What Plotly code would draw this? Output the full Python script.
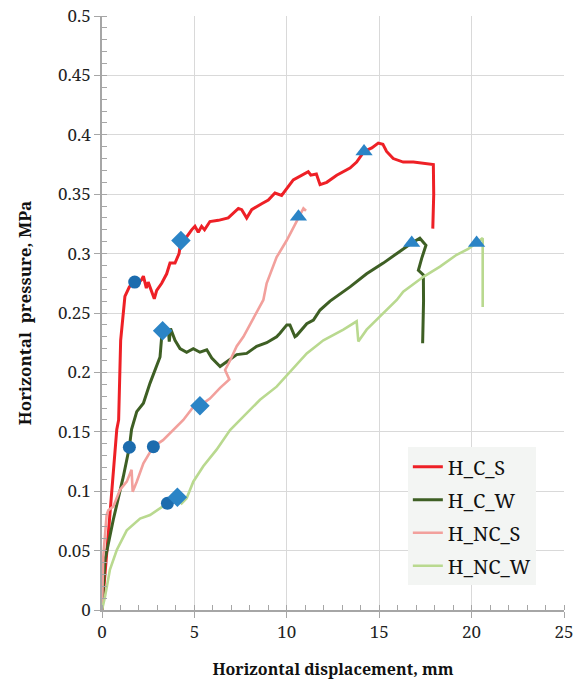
import plotly.graph_objects as go

# ---------------- data ----------------
hcs_x = [0.0, 0.07, 0.4, 0.8, 0.9, 1.01, 1.24, 1.48, 1.73, 2.0, 2.14, 2.24, 2.4, 2.5, 2.6, 2.83, 2.96, 3.23,
         3.5, 3.68, 3.95, 4.17, 4.27, 4.58, 4.85, 5.03, 5.21, 5.39, 5.55, 5.84, 6.3, 6.83, 7.38, 7.56, 7.83,
         8.1, 8.64, 9.0, 9.36, 9.72, 10.35, 10.7, 11.16, 11.3, 11.6, 11.8, 12.16, 12.7, 13.42, 13.78, 14.18,
         14.6, 14.95, 15.2, 15.4, 15.76, 16.3, 16.85, 17.39, 17.93, 17.95, 17.9]
hcs_y = [0.0, 0.014, 0.075, 0.152, 0.16, 0.227, 0.264, 0.272, 0.276, 0.276, 0.278, 0.281, 0.271, 0.276, 0.272,
         0.262, 0.269, 0.275, 0.283, 0.292, 0.292, 0.300, 0.311, 0.314, 0.320, 0.323, 0.318, 0.323, 0.320,
         0.327, 0.328, 0.330, 0.338, 0.337, 0.330, 0.337, 0.342, 0.345, 0.351, 0.349, 0.362, 0.365, 0.369,
         0.366, 0.367, 0.358, 0.360, 0.366, 0.372, 0.377, 0.386, 0.389, 0.393, 0.392, 0.386, 0.380, 0.377,
         0.377, 0.376, 0.375, 0.35, 0.321]

hcw_x = [0.0, 0.16, 0.61, 1.15, 1.48, 1.6, 1.88, 2.24, 2.6, 2.87, 3.14, 3.23, 3.28, 3.45, 3.59, 3.64, 3.71,
         3.95, 4.22, 4.58, 4.94, 5.3, 5.67, 5.94, 6.39, 6.75, 7.29, 7.83, 8.37, 8.91, 9.45, 9.63, 10.0, 10.17,
         10.44, 10.53, 11.08, 11.44, 11.8, 12.34, 13.42, 14.32, 15.22, 16.13, 16.76, 17.2, 17.53, 17.3, 17.12,
         17.39, 17.4, 17.35]
hcw_y = [0.0, 0.042, 0.076, 0.112, 0.137, 0.152, 0.167, 0.174, 0.191, 0.202, 0.213, 0.230, 0.235, 0.236,
         0.236, 0.226, 0.237, 0.227, 0.220, 0.217, 0.220, 0.217, 0.219, 0.212, 0.205, 0.209, 0.215, 0.216,
         0.222, 0.225, 0.230, 0.233, 0.240, 0.240, 0.230, 0.231, 0.241, 0.244, 0.2525, 0.260, 0.272, 0.283,
         0.292, 0.302, 0.309, 0.313, 0.307, 0.296, 0.286, 0.282, 0.26, 0.2245]

hncs_x = [0.0, 0.07, 0.25, 0.34, 0.61, 0.97, 1.34, 1.6, 1.66, 1.88, 2.24, 2.78, 3.3, 3.86, 4.22, 4.4, 4.94,
          5.3, 5.84, 6.39, 6.89, 6.66, 6.93, 7.29, 7.65, 8.0, 8.37, 8.73, 8.91, 9.45, 9.99, 10.44, 10.63, 10.9,
          11.04]
hncs_y = [0.0, 0.045, 0.080, 0.084, 0.087, 0.101, 0.108, 0.118, 0.0996, 0.108, 0.1235, 0.1375, 0.143,
          0.1515, 0.157, 0.160, 0.171, 0.172, 0.178, 0.187, 0.194, 0.202, 0.210, 0.222, 0.230, 0.240, 0.250,
          0.261, 0.275, 0.297, 0.311, 0.325, 0.331, 0.338, 0.336]

hncw_x = [0.0, 0.16, 0.43, 0.8, 1.34, 2.06, 2.6, 3.14, 3.54, 4.04, 4.31, 4.58, 4.94, 5.48, 6.2, 6.93, 7.65,
          8.55, 9.45, 10.17, 11.08, 11.98, 13.06, 13.78, 13.87, 14.32, 15.22, 15.95, 16.3, 17.39, 18.29, 19.19,
          19.82, 20.27, 20.6, 20.6]
hncw_y = [0.0, 0.011, 0.034, 0.0505, 0.067, 0.077, 0.080, 0.0856, 0.0898, 0.094, 0.0898, 0.094, 0.108,
          0.121, 0.135, 0.1515, 0.163, 0.177, 0.188, 0.2006, 0.216, 0.227, 0.236, 0.243, 0.226, 0.236, 0.250,
          0.261, 0.268, 0.2805, 0.289, 0.299, 0.304, 0.309, 0.313, 0.255]

series_names = ["H_C_S", "H_C_W", "H_NC_S", "H_NC_W"]

# key-point markers
circle_x = [1.77, 1.48, 2.78, 3.54]
circle_y = [0.276, 0.137, 0.1375, 0.0898]
diamond_x = [4.27, 3.28, 5.3, 4.08]
diamond_y = [0.311, 0.235, 0.172, 0.095]
triangle_x = [14.18, 16.76, 10.63, 20.27]
triangle_y = [0.386, 0.309, 0.331, 0.309]

x_ticks = [0, 5, 10, 15, 20, 25]
y_ticks = [0, 0.05, 0.1, 0.15, 0.2, 0.25, 0.3, 0.35, 0.4, 0.45, 0.5]

# ---------------- figure ----------------
colors = ["#EE2026", "#3E5F24", "#F2A09C", "#B9D98F"]
widths = [3, 3, 2.6, 2.6]
xs = [hcs_x, hcw_x, hncs_x, hncw_x]
ys = [hcs_y, hcw_y, hncs_y, hncw_y]

fig = go.Figure()
for name, c, w, x, y in zip(series_names, colors, widths, xs, ys):
    fig.add_trace(go.Scatter(x=x, y=y, mode="lines", name=name, legendgroup=name,
                             line=dict(color=c, width=w)))

fig.add_trace(go.Scatter(x=circle_x, y=circle_y, mode="markers", showlegend=False,
                         marker=dict(symbol="circle", size=13, color="#1C6CAE")))
fig.add_trace(go.Scatter(x=diamond_x, y=diamond_y, mode="markers", showlegend=False,
                         marker=dict(symbol="diamond", size=15, color="#2B84C6")))
fig.add_trace(go.Scatter(x=triangle_x, y=triangle_y, mode="markers", showlegend=False,
                         marker=dict(symbol="triangle-up", size=15, color="#2B84C6")))

serif = "Noto Serif, FreeSerif, Tinos, Nimbus Roman, Liberation Serif, Liberation Sans"
axis_gray = "#A6A6A6"

fig.update_layout(
    width=581, height=686,
    margin=dict(l=102, r=17, t=16, b=76),
    paper_bgcolor="white", plot_bgcolor="white",
    font=dict(family=serif, size=16, color="#222222"),
    showlegend=True,
    legend=dict(x=0.662, y=0.274, xanchor="left", yanchor="top",
                bgcolor="#F3F5F3", borderwidth=0,
                font=dict(family=serif, size=20, color="#111111"),
                tracegroupgap=4, traceorder="grouped"),
)

fig.update_xaxes(
    range=[0, 25], tickvals=x_ticks, ticktext=[str(v) for v in x_ticks],
    showgrid=True, gridcolor="#D9D9D9", gridwidth=1, zeroline=False,
    showline=True, linecolor=axis_gray, linewidth=1.5, automargin=False,
    ticks="outside", ticklen=6, tickcolor=axis_gray, tickwidth=1.2, ticklabeloverflow="allow",
    minor=dict(dtick=1, ticks="inside", ticklen=5, tickcolor=axis_gray, tickwidth=1, showgrid=False),
    tickfont=dict(family=serif, size=17, color="#222222"),
    title=dict(text="<b>Horizontal displacement, mm</b>",
               font=dict(family=serif, size=16, color="#111111"), standoff=22),
)
fig.update_yaxes(
    range=[0, 0.5], tickvals=y_ticks, ticktext=[f"{v:g}" for v in y_ticks],
    showgrid=True, gridcolor="#D9D9D9", gridwidth=1, zeroline=False,
    showline=True, linecolor=axis_gray, linewidth=1.5, automargin=False,
    ticks="outside", ticklen=6, tickcolor=axis_gray, tickwidth=1.2, ticklabeloverflow="allow",
    minor=dict(dtick=0.01, ticks="inside", ticklen=5, tickcolor=axis_gray, tickwidth=1, showgrid=False),
    tickfont=dict(family=serif, size=17, color="#222222"),
    title=dict(text="<b>Horizontal  pressure, MPa</b>",
               font=dict(family=serif, size=17, color="#111111"), standoff=22),
)

fig.write_html("out.html", config={"displayModeBar": False},
               post_script="document.body.style.margin='0';document.body.style.overflow='hidden';")
